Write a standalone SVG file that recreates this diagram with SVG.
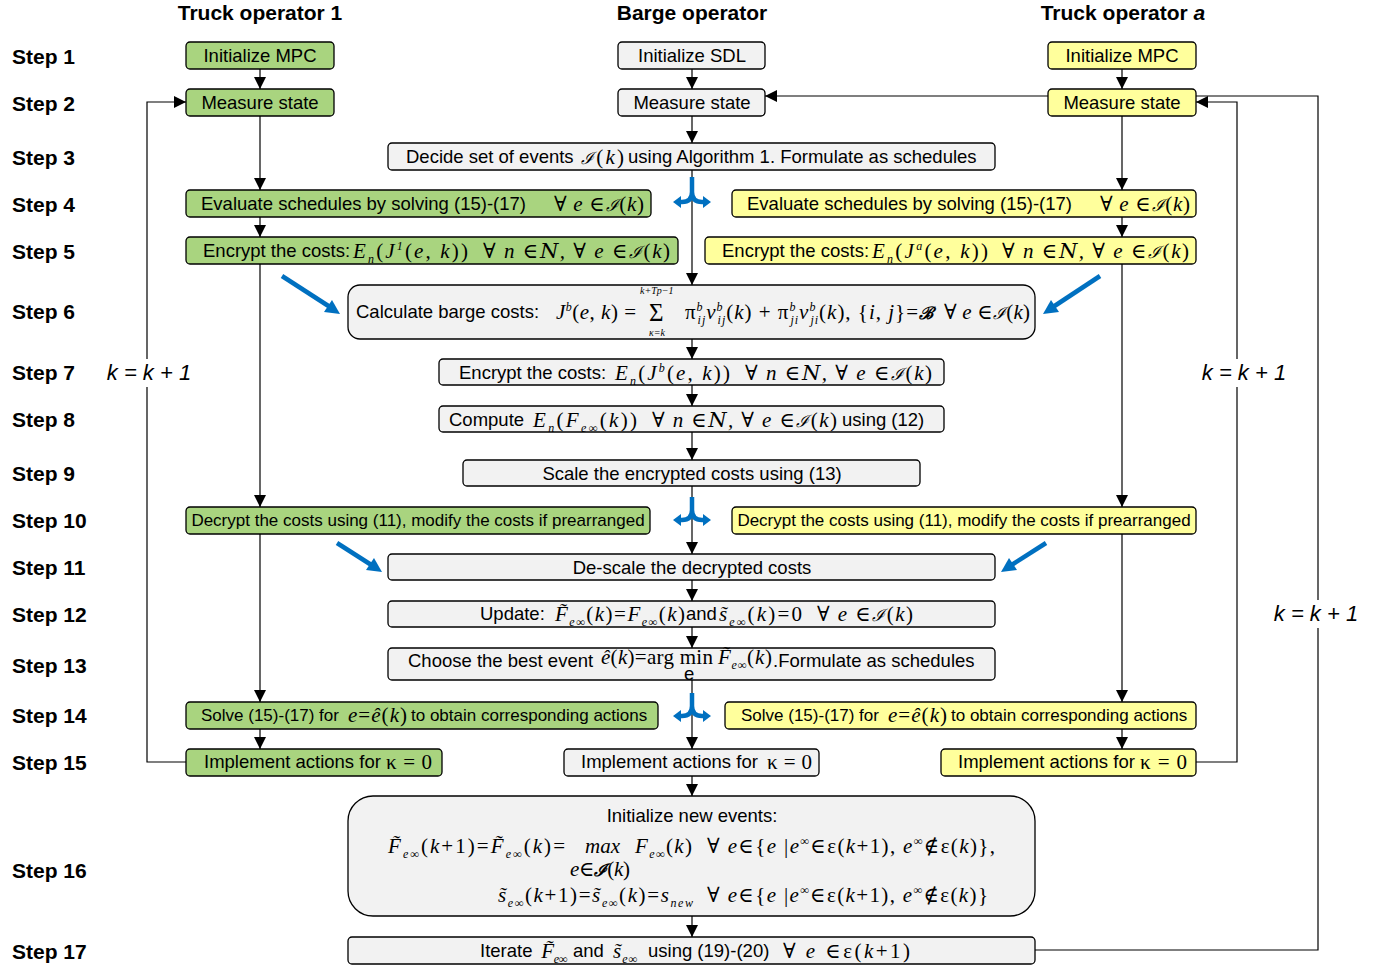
<svg xmlns="http://www.w3.org/2000/svg" width="1375" height="969" viewBox="0 0 1375 969">
<defs>
<style>
.t{font-family:"Liberation Sans",Arial,sans-serif;font-size:18.5px;fill:#000}
.t16{font-family:"Liberation Sans",Arial,sans-serif;font-size:17px;fill:#000}
.h{font-family:"Liberation Sans",Arial,sans-serif;font-size:21px;font-weight:bold;fill:#000}
.m{font-family:"Liberation Serif","Times New Roman","DejaVu Serif",serif;font-style:italic;font-size:21px;fill:#000}
.mr{font-family:"Liberation Serif","Times New Roman","DejaVu Serif",serif;font-style:normal}
.sc{font-family:"DejaVu Serif","Liberation Serif",serif;font-style:italic;font-size:17px}
.sub{font-size:12px;baseline-shift:-5px}
.sup{font-size:12px;baseline-shift:8px}
.lim{font-family:"Liberation Serif","Times New Roman",serif;font-style:italic;font-size:10px}
.k{font-family:"Liberation Sans",Arial,sans-serif;font-size:22px;font-style:italic;fill:#000}
.g{fill:#a9d47f;stroke:#000;stroke-width:1.3}
.y{fill:#ffff9c;stroke:#000;stroke-width:1.3}
.b{fill:#f2f2f2;stroke:#000;stroke-width:1.3}
.c{fill:none;stroke:#000;stroke-width:1.2}
.blue{fill:none;stroke:#0070c0;stroke-width:4.5}
.bh{fill:#0070c0}
</style>
<marker id="ar" markerUnits="userSpaceOnUse" markerWidth="13" markerHeight="13" refX="12" refY="6" orient="auto">
<path d="M0,0 L12,6 L0,12 z" fill="#000"/>
</marker>
</defs>
<rect width="1375" height="969" fill="#fff"/>

<g id="headers">
<text class="h" x="260" y="20" text-anchor="middle">Truck operator 1</text>
<text class="h" x="692" y="20" text-anchor="middle">Barge operator</text>
<text class="h" x="1123" y="20" text-anchor="middle">Truck operator <tspan style="font-style:italic">a</tspan></text>
</g>

<g id="steps" class="h">
<text x="12" y="64">Step 1</text>
<text x="12" y="111">Step 2</text>
<text x="12" y="165">Step 3</text>
<text x="12" y="212">Step 4</text>
<text x="12" y="259">Step 5</text>
<text x="12" y="319">Step 6</text>
<text x="12" y="380">Step 7</text>
<text x="12" y="427">Step 8</text>
<text x="12" y="481">Step 9</text>
<text x="12" y="528">Step 10</text>
<text x="12" y="575">Step 11</text>
<text x="12" y="622">Step 12</text>
<text x="12" y="673">Step 13</text>
<text x="12" y="723">Step 14</text>
<text x="12" y="770">Step 15</text>
<text x="12" y="878">Step 16</text>
<text x="12" y="959">Step 17</text>
</g>

<g id="connectors">
<g class="c" marker-end="url(#ar)">
<path d="M260,69 V89"/>
<path d="M260,116 V190"/>
<path d="M260,217 V237"/>
<path d="M260,264 V507"/>
<path d="M260,534 V702"/>
<path d="M260,729 V749"/>
<path d="M692,69 V89"/>
<path d="M692,116 V143"/>
<path d="M692,170 V285"/>
<path d="M692,339 V359"/>
<path d="M692,385 V406"/>
<path d="M692,432 V460"/>
<path d="M692,486 V554"/>
<path d="M692,580 V601"/>
<path d="M692,627 V648"/>
<path d="M692,680 V749"/>
<path d="M692,776 V796"/>
<path d="M692,916 V937"/>
<path d="M1122,69 V89"/>
<path d="M1122,116 V190"/>
<path d="M1122,217 V237"/>
<path d="M1122,264 V507"/>
<path d="M1122,534 V702"/>
<path d="M1122,729 V749"/>
<path d="M186,762 H147 V102 H186"/>
<path d="M1196,762 H1237 V102 H1196"/>
<path d="M1035,950 H1318 V96 H765"/>
</g>
<g id="loop-labels">
<rect x="103" y="359" width="92" height="28" fill="#fff"/>
<text class="k" x="149" y="380" text-anchor="middle">k = k + 1</text>
<rect x="1198" y="359" width="92" height="28" fill="#fff"/>
<text class="k" x="1244" y="380" text-anchor="middle">k = k + 1</text>
<rect x="1270" y="600" width="92" height="28" fill="#fff"/>
<text class="k" x="1316" y="621" text-anchor="middle">k = k + 1</text>
</g>
</g>

<!-- left truck operator -->
<g id="t1-init"><rect class="g" x="186" y="42" width="148" height="27" rx="4"/><text class="t" x="260" y="62" text-anchor="middle">Initialize MPC</text></g>
<g id="t1-measure"><rect class="g" x="186" y="89" width="148" height="27" rx="4"/><text class="t" x="260" y="109" text-anchor="middle">Measure state</text></g>
<g id="t1-eval"><rect class="g" x="186" y="190" width="465" height="27" rx="4"/><text class="t" x="201" y="210">Evaluate schedules by solving (15)-(17)</text><text class="m" x="554" y="211" textLength="90" lengthAdjust="spacing">∀ e ∈<tspan class="sc">ℐ</tspan><tspan class="mr">(</tspan>k<tspan class="mr">)</tspan></text></g>
<g id="t1-encrypt"><rect class="g" x="186" y="237" width="492" height="27" rx="4"/><text class="t" x="203" y="257">Encrypt the costs:</text><text class="m" x="353" y="258" textLength="115" lengthAdjust="spacing">E<tspan class="sub">n</tspan><tspan class="mr">(</tspan>J<tspan class="sup">1</tspan><tspan class="mr">(</tspan>e<tspan class="mr">, </tspan>k<tspan class="mr">))</tspan></text><text class="m" x="483" y="258" textLength="187" lengthAdjust="spacing">∀ n ∈<tspan font-family="DejaVu Serif">N</tspan>, ∀ e ∈<tspan class="sc">ℐ</tspan><tspan class="mr">(</tspan>k<tspan class="mr">)</tspan></text></g>
<g id="t1-decrypt"><rect class="g" x="186" y="507" width="464" height="27" rx="4"/><text class="t16" x="418" y="526" text-anchor="middle">Decrypt the costs using (11), modify the costs if prearranged</text></g>
<g id="t1-solve"><rect class="g" x="186" y="702" width="472" height="27" rx="4"/><text class="t16" x="201" y="721">Solve (15)-(17) for</text><text class="m" x="348" y="722" textLength="59" lengthAdjust="spacing">e<tspan class="mr">=</tspan>ê<tspan class="mr">(</tspan>k<tspan class="mr">)</tspan></text><text class="t16" x="411" y="721">to obtain corresponding actions</text></g>
<g id="t1-impl"><rect class="g" x="186" y="749" width="256" height="27" rx="4"/><text class="t" x="204" y="768">Implement actions for</text><text class="m" x="386" y="769" textLength="46" lengthAdjust="spacing"><tspan class="mr">κ=0</tspan></text></g>

<!-- barge operator -->
<g id="b-init"><rect class="b" x="618" y="42" width="147" height="27" rx="4"/><text class="t" x="692" y="62" text-anchor="middle">Initialize SDL</text></g>
<g id="b-measure"><rect class="b" x="618" y="89" width="147" height="27" rx="4"/><text class="t" x="692" y="109" text-anchor="middle">Measure state</text></g>
<g id="b-decide"><rect class="b" x="388" y="143" width="607" height="27" rx="4"/><text class="t" x="406" y="163">Decide set of events</text><text class="m" x="581" y="164" textLength="43" lengthAdjust="spacing"><tspan class="sc">ℐ</tspan><tspan class="mr">(</tspan>k<tspan class="mr">)</tspan></text><text class="t" x="628" y="163">using Algorithm 1. Formulate as schedules</text></g>
<g id="b-calc"><rect class="b" x="348" y="285" width="687" height="54" rx="12"/>
<text class="t" x="356" y="318">Calculate barge costs:</text>
<text class="m" x="556" y="319" textLength="80" lengthAdjust="spacing">J<tspan class="sup">b</tspan><tspan class="mr">(</tspan>e<tspan class="mr">, </tspan>k<tspan class="mr">) =</tspan></text>
<text x="649" y="321" font-size="25" font-family="Liberation Serif, serif">Σ</text>
<text class="lim" x="640" y="294">k+Tp−1</text>
<text class="lim" x="649" y="336">κ=k</text>
<text class="m" x="685" y="319" textLength="248" lengthAdjust="spacing"><tspan class="mr">π</tspan><tspan class="sup">b</tspan><tspan class="sub" dx="-6">ij</tspan>v<tspan class="sup">b</tspan><tspan class="sub" dx="-6">ij</tspan><tspan class="mr">(</tspan>k<tspan class="mr">) + π</tspan><tspan class="sup">b</tspan><tspan class="sub" dx="-6">ji</tspan>v<tspan class="sup">b</tspan><tspan class="sub" dx="-6">ji</tspan><tspan class="mr">(</tspan>k<tspan class="mr">), {</tspan>i<tspan class="mr">, </tspan>j<tspan class="mr">}=</tspan><tspan class="sc" font-weight="bold">ℬ</tspan></text>
<text class="m" x="944" y="319" textLength="86" lengthAdjust="spacing">∀ e ∈<tspan class="sc">ℐ</tspan><tspan class="mr">(</tspan>k<tspan class="mr">)</tspan></text>
</g>
<g id="b-encrypt"><rect class="b" x="439" y="359" width="505" height="26" rx="4"/><text class="t" x="459" y="379">Encrypt the costs:</text><text class="m" x="615" y="380" textLength="115" lengthAdjust="spacing">E<tspan class="sub">n</tspan><tspan class="mr">(</tspan>J<tspan class="sup">b</tspan><tspan class="mr">(</tspan>e<tspan class="mr">, </tspan>k<tspan class="mr">))</tspan></text><text class="m" x="745" y="380" textLength="187" lengthAdjust="spacing">∀ n ∈<tspan font-family="DejaVu Serif">N</tspan>, ∀ e ∈<tspan class="sc">ℐ</tspan><tspan class="mr">(</tspan>k<tspan class="mr">)</tspan></text></g>
<g id="b-compute"><rect class="b" x="439" y="406" width="505" height="26" rx="4"/><text class="t" x="449" y="426">Compute</text><text class="m" x="533" y="427" textLength="104" lengthAdjust="spacing">E<tspan class="sub">n</tspan><tspan class="mr">(</tspan>F<tspan class="sub">e∞</tspan><tspan class="mr">(</tspan>k<tspan class="mr">))</tspan></text><text class="m" x="652" y="427" textLength="185" lengthAdjust="spacing">∀ n ∈<tspan font-family="DejaVu Serif">N</tspan>, ∀ e ∈<tspan class="sc">ℐ</tspan><tspan class="mr">(</tspan>k<tspan class="mr">)</tspan></text><text class="t" x="842" y="426">using (12)</text></g>
<g id="b-scale"><rect class="b" x="463" y="460" width="457" height="26" rx="4"/><text class="t" x="692" y="480" text-anchor="middle">Scale the encrypted costs using (13)</text></g>
<g id="b-descale"><rect class="b" x="388" y="554" width="607" height="26" rx="4"/><text class="t" x="692" y="574" text-anchor="middle">De-scale the decrypted costs</text></g>
<g id="b-update"><rect class="b" x="388" y="601" width="607" height="26" rx="4"/><text class="t" x="480" y="620">Update:</text><text class="m" x="555" y="621" textLength="130" lengthAdjust="spacing">F̃<tspan class="sub">e∞</tspan><tspan class="mr">(</tspan>k<tspan class="mr">)=</tspan>F<tspan class="sub">e∞</tspan><tspan class="mr">(</tspan>k<tspan class="mr">)</tspan></text><text class="t" x="686" y="620">and</text><text class="m" x="719" y="621" textLength="83" lengthAdjust="spacing">s̃<tspan class="sub">e∞</tspan><tspan class="mr">(</tspan>k<tspan class="mr">)=0</tspan></text><text class="m" x="817" y="621" textLength="96" lengthAdjust="spacing">∀ e ∈<tspan class="sc">ℐ</tspan><tspan class="mr">(</tspan>k<tspan class="mr">)</tspan></text></g>
<g id="b-choose"><rect class="b" x="388" y="648" width="607" height="32" rx="4"/><text class="t" x="408" y="667">Choose the best event</text><text class="m" x="601" y="664" textLength="112" lengthAdjust="spacing">ê<tspan class="mr">(</tspan>k<tspan class="mr">)=arg min</tspan></text><text class="m" x="718" y="664" textLength="54" lengthAdjust="spacing">F̃<tspan class="sub">e∞</tspan><tspan class="mr">(</tspan>k<tspan class="mr">)</tspan></text><text class="t" x="684" y="679.5" font-size="7">e</text><text class="t" x="773" y="667">.Formulate as schedules</text></g>
<g id="b-impl"><rect class="b" x="564" y="749" width="255" height="27" rx="4"/><text class="t" x="581" y="768">Implement actions for</text><text class="m" x="767" y="769" textLength="45" lengthAdjust="spacing"><tspan class="mr">κ=0</tspan></text></g>
<g id="b-init-new"><rect class="b" x="348" y="796" width="687" height="120" rx="25"/>
<text class="t" x="692" y="822" text-anchor="middle">Initialize new events:</text>
<text class="m" x="388" y="853" textLength="177" lengthAdjust="spacing">F̃<tspan class="sub">e∞</tspan><tspan class="mr">(</tspan>k<tspan class="mr">+1)=</tspan>F̃<tspan class="sub">e∞</tspan><tspan class="mr">(</tspan>k<tspan class="mr">)=</tspan></text>
<text class="m" x="585" y="853" font-size="17">max</text>
<text class="m" x="570" y="876" font-size="19" textLength="60" lengthAdjust="spacing">e<tspan class="mr">∈</tspan><tspan class="sc" font-weight="bold">ℐ</tspan><tspan class="mr">(</tspan>k<tspan class="mr">)</tspan></text>
<text class="m" x="635" y="853" textLength="57" lengthAdjust="spacing">F<tspan class="sub">e∞</tspan><tspan class="mr">(</tspan>k<tspan class="mr">)</tspan></text>
<text class="m" x="707" y="853" textLength="288" lengthAdjust="spacing"><tspan class="mr">∀ </tspan>e<tspan class="mr">∈{</tspan>e<tspan class="mr"> |</tspan>e<tspan class="sup">∞</tspan><tspan class="mr">∈ε(</tspan>k<tspan class="mr">+1), </tspan>e<tspan class="sup">∞</tspan><tspan class="mr">∉ε(</tspan>k<tspan class="mr">)},</tspan></text>
<text class="m" x="498" y="902" textLength="195" lengthAdjust="spacing">s̃<tspan class="sub">e∞</tspan><tspan class="mr">(</tspan>k<tspan class="mr">+1)=</tspan>s̃<tspan class="sub">e∞</tspan><tspan class="mr">(</tspan>k<tspan class="mr">)=</tspan>s<tspan class="sub">new</tspan></text>
<text class="m" x="707" y="902" textLength="281" lengthAdjust="spacing"><tspan class="mr">∀ </tspan>e<tspan class="mr">∈{</tspan>e<tspan class="mr"> |</tspan>e<tspan class="sup">∞</tspan><tspan class="mr">∈ε(</tspan>k<tspan class="mr">+1), </tspan>e<tspan class="sup">∞</tspan><tspan class="mr">∉ε(</tspan>k<tspan class="mr">)}</tspan></text>
</g>
<g id="b-iterate"><rect class="b" x="348" y="937" width="687" height="27" rx="4"/><text class="t" x="480" y="957">Iterate</text><text class="m" x="541" y="958" textLength="26" lengthAdjust="spacing">F̃<tspan class="sub">e∞</tspan></text><text class="t" x="573" y="957">and</text><text class="m" x="613" y="958" textLength="24" lengthAdjust="spacing">s̃<tspan class="sub">e∞</tspan></text><text class="t" x="648" y="957">using (19)-(20)</text><text class="m" x="783" y="958" textLength="127" lengthAdjust="spacing"><tspan class="mr">∀ </tspan>e <tspan class="mr">∈ε(</tspan>k<tspan class="mr">+1)</tspan></text></g>

<!-- right truck operator -->
<g id="ta-init"><rect class="y" x="1048" y="42" width="148" height="27" rx="4"/><text class="t" x="1122" y="62" text-anchor="middle">Initialize MPC</text></g>
<g id="ta-measure"><rect class="y" x="1048" y="89" width="148" height="27" rx="4"/><text class="t" x="1122" y="109" text-anchor="middle">Measure state</text></g>
<g id="ta-eval"><rect class="y" x="732" y="190" width="464" height="27" rx="4"/><text class="t" x="747" y="210">Evaluate schedules by solving (15)-(17)</text><text class="m" x="1100" y="211" textLength="90" lengthAdjust="spacing">∀ e ∈<tspan class="sc">ℐ</tspan><tspan class="mr">(</tspan>k<tspan class="mr">)</tspan></text></g>
<g id="ta-encrypt"><rect class="y" x="705" y="237" width="491" height="27" rx="4"/><text class="t" x="722" y="257">Encrypt the costs:</text><text class="m" x="872" y="258" textLength="116" lengthAdjust="spacing">E<tspan class="sub">n</tspan><tspan class="mr">(</tspan>J<tspan class="sup">a</tspan><tspan class="mr">(</tspan>e<tspan class="mr">, </tspan>k<tspan class="mr">))</tspan></text><text class="m" x="1002" y="258" textLength="187" lengthAdjust="spacing">∀ n ∈<tspan font-family="DejaVu Serif">N</tspan>, ∀ e ∈<tspan class="sc">ℐ</tspan><tspan class="mr">(</tspan>k<tspan class="mr">)</tspan></text></g>
<g id="ta-decrypt"><rect class="y" x="732" y="507" width="464" height="27" rx="4"/><text class="t16" x="964" y="526" text-anchor="middle">Decrypt the costs using (11), modify the costs if prearranged</text></g>
<g id="ta-solve"><rect class="y" x="725" y="702" width="471" height="27" rx="4"/><text class="t16" x="741" y="721">Solve (15)-(17) for</text><text class="m" x="888" y="722" textLength="59" lengthAdjust="spacing">e<tspan class="mr">=</tspan>ê<tspan class="mr">(</tspan>k<tspan class="mr">)</tspan></text><text class="t16" x="951" y="721">to obtain corresponding actions</text></g>
<g id="ta-impl"><rect class="y" x="941" y="749" width="255" height="27" rx="4"/><text class="t" x="958" y="768">Implement actions for</text><text class="m" x="1140" y="769" textLength="47" lengthAdjust="spacing"><tspan class="mr">κ=0</tspan></text></g>

<!-- blue exchange arrows -->
<g id="blue-arrows">
<path class="blue" d="M692,177 V192 Q692,202 682,202 H679 M692,192 Q692,202 702,202 H705"/>
<path class="bh" d="M673,202 L681,196 L681,208 z M711,202 L703,196 L703,208 z"/>
<path class="blue" d="M692,497 V510 Q692,520 682,520 H679 M692,510 Q692,520 702,520 H705"/>
<path class="bh" d="M673,520 L681,514 L681,526 z M711,520 L703,514 L703,526 z"/>
<path class="blue" d="M692,693 V706 Q692,716 682,716 H679 M692,706 Q692,716 702,716 H705"/>
<path class="bh" d="M673,716 L681,710 L681,722 z M711,716 L703,710 L703,722 z"/>
<path class="blue" d="M282,276 L330,307"/>
<path class="bh" d="M340,314 L324,312 L332,300 z"/>
<path class="blue" d="M1100,276 L1053,307"/>
<path class="bh" d="M1043,314 L1051,300 L1059,312 z"/>
<path class="blue" d="M337,543 L373,566"/>
<path class="bh" d="M382,572 L366,570 L374,558 z"/>
<path class="blue" d="M1046,543 L1010,566"/>
<path class="bh" d="M1001,572 L1009,558 L1017,570 z"/>
</g>
</svg>
